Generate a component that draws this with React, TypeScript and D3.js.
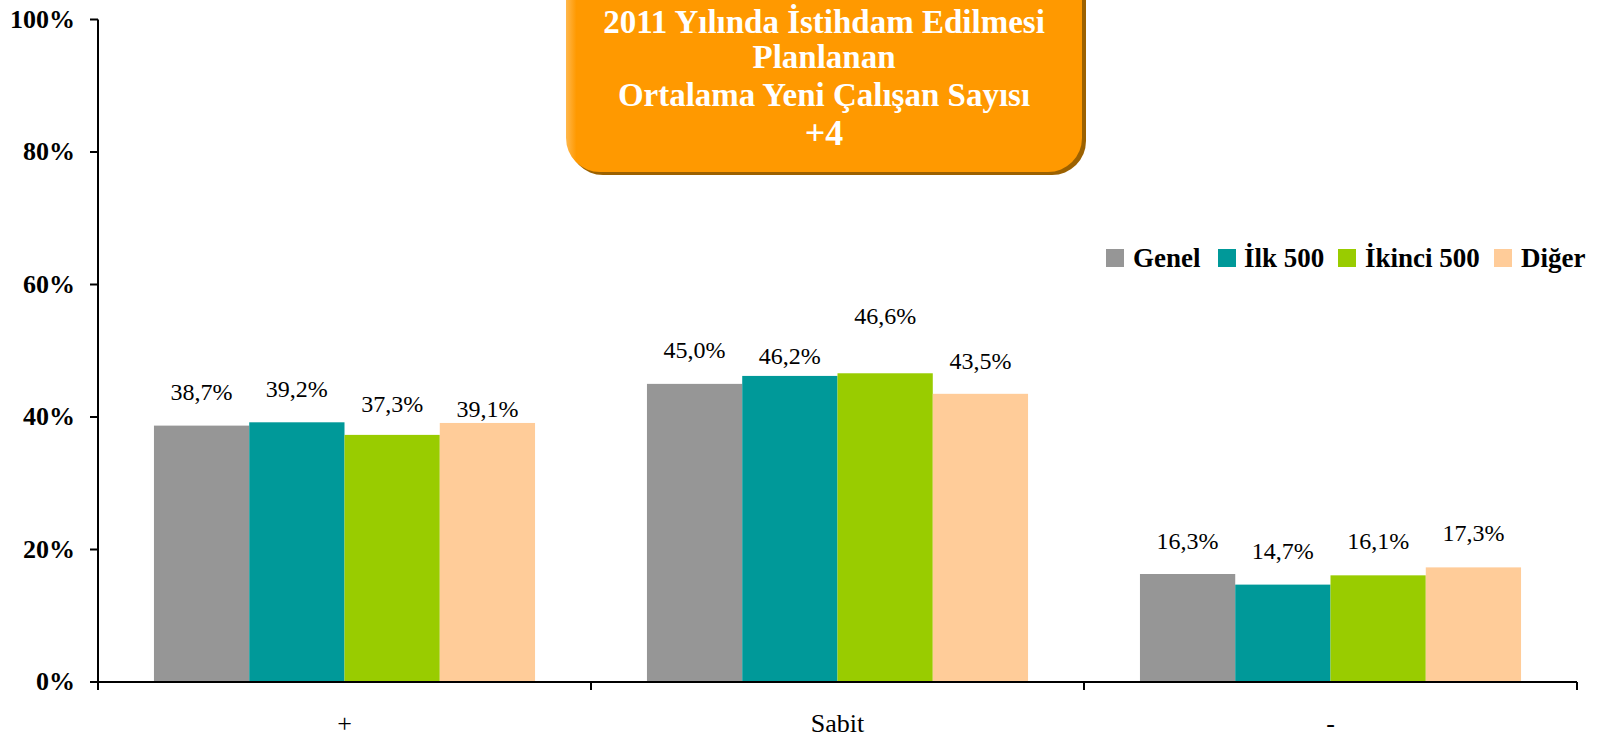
import React from "react";
import * as d3 from "d3";

const categories = ["+", "Sabit", "-"];
const seriesNames = ["Genel", "İlk 500", "İkinci 500", "Diğer"];
const seriesColors = ["#969696", "#009999", "#99CC00", "#FFCC99"];
const genel = [38.7, 45.0, 16.3];
const ilk500 = [39.2, 46.2, 14.7];
const ikinci500 = [37.3, 46.6, 16.1];
const diger = [39.1, 43.5, 17.3];
const yTicks = [0, 20, 40, 60, 80, 100];
const titleLines = ["2011 Yılında İstihdam Edilmesi", "Planlanan", "Ortalama Yeni Çalışan Sayısı", "+4"];
// manual label nudges (px, down positive) per category, per series
const labelNudge = [
  [0, 1, 3, 20],
  [0, 14, -23, 1],
  [1, 0, 0, 0],
];

const W = 1606;
const H = 738;
const FONT = "'Liberation Serif', 'Times New Roman', serif";

export default function App() {
  const series = [genel, ilk500, ikinci500, diger];
  const x0 = d3.scaleBand<string>().domain(categories).range([98, 1577]).paddingInner(0.227).paddingOuter(0.1135);
  const x1 = d3.scaleBand<number>().domain(d3.range(seriesNames.length)).range([0, x0.bandwidth()]);
  const y = d3.scaleLinear().domain([0, 100]).range([682, 19.5]);
  const fmt = (v: number) => v.toFixed(1).replace(".", ",") + "%";
  const step = (1577 - 98) / categories.length;
  const boundaries = d3.range(categories.length + 1).map((i) => 98 + i * step);

  const legendSq = [1106, 1218, 1338, 1494];
  const legendTx = [1133, 1244, 1365, 1521];

  return (
    <svg width={W} height={H} style={{ position: "absolute", left: 0, top: 0, display: "block" }} fontFamily={FONT}>
      <rect x={0} y={0} width={W} height={H} fill="#ffffff" />
      {/* bars */}
      {categories.map((c, ci) => (
        <g key={c} transform={`translate(${x0(c)},0)`}>
          {series.map((s, si) => (
            <rect key={si} x={x1(si)} y={y(s[ci])} width={x1.bandwidth()} height={y(0) - y(s[ci])} fill={seriesColors[si]} />
          ))}
          {series.map((s, si) => (
            <text
              key={"t" + si}
              x={(x1(si) as number) + x1.bandwidth() / 2}
              y={y(s[ci]) - 26 + labelNudge[ci][si]}
              textAnchor="middle"
              fontSize={24}
              fill="#000"
            >
              {fmt(s[ci])}
            </text>
          ))}
        </g>
      ))}
      {/* y axis */}
      <line x1={98} x2={98} y1={y(100)} y2={690} stroke="#000" strokeWidth={2} />
      {yTicks.map((t) => (
        <g key={t}>
          <line x1={90} x2={98} y1={y(t)} y2={y(t)} stroke="#000" strokeWidth={2} />
          <text x={75} y={y(t) + 8} textAnchor="end" fontSize={26} fontWeight="bold" fill="#000">
            {t + "%"}
          </text>
        </g>
      ))}
      {/* x axis */}
      <line x1={98} x2={1577} y1={y(0)} y2={y(0)} stroke="#000" strokeWidth={2} />
      {boundaries.map((b, i) => (
        <line key={i} x1={b} x2={b} y1={y(0)} y2={690} stroke="#000" strokeWidth={2} />
      ))}
      {categories.map((c) => (
        <text key={c} x={(x0(c) as number) + x0.bandwidth() / 2} y={732} textAnchor="middle" fontSize={26} fill="#000">
          {c}
        </text>
      ))}
      {/* legend */}
      {seriesNames.map((n, i) => (
        <g key={n}>
          <rect x={legendSq[i]} y={249} width={18} height={18} fill={seriesColors[i]} />
          <text x={legendTx[i]} y={267} fontSize={27} fontWeight="bold" fill="#000">
            {n}
          </text>
        </g>
      ))}
      {/* title box */}
      <defs>
        <linearGradient id="edge" x1="0" x2="1" y1="0" y2="0">
          <stop offset="0" stopColor="#FFB84D" />
          <stop offset="0.02" stopColor="#FF9900" />
          <stop offset="1" stopColor="#FF9900" />
        </linearGradient>
      </defs>
      <rect x={569} y={-40} width={517} height={215} rx={34} ry={34} fill="#9C6100" />
      <rect x={566} y={-40} width={516} height={212} rx={34} ry={34} fill="url(#edge)" />
      {titleLines.map((l, i) => (
        <text key={i} x={824} y={[33, 68, 106, 145][i]} textAnchor="middle" fontSize={i === 3 ? 36 : 33} fontWeight="bold" fill="#ffffff">
          {l}
        </text>
      ))}
    </svg>
  );
}
